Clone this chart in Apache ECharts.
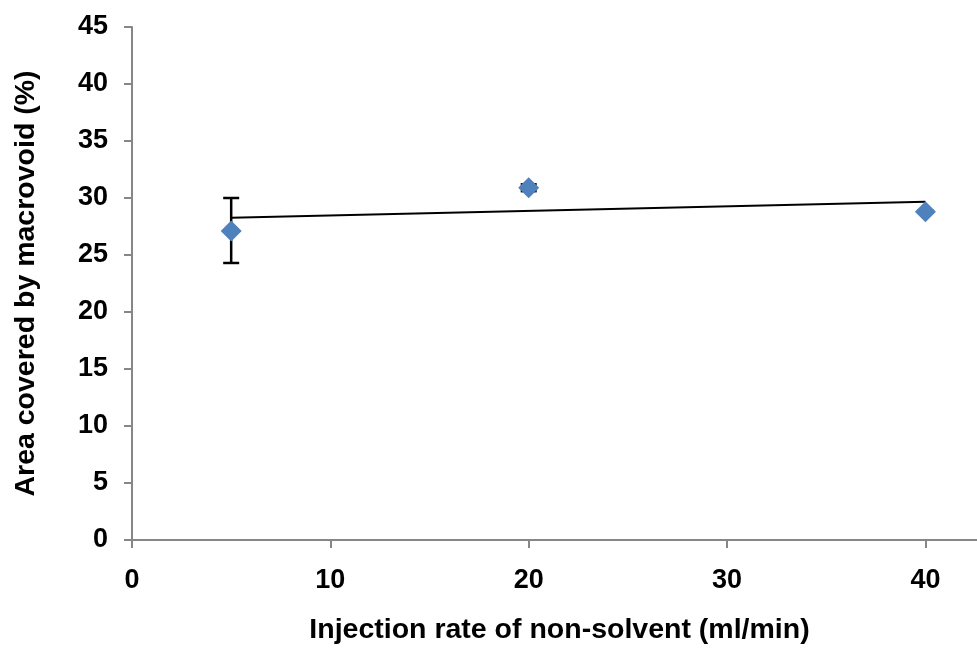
<!DOCTYPE html>
<html>
<head>
<meta charset="utf-8">
<script src="https://cdn.jsdelivr.net/npm/echarts@6/dist/echarts.min.js"></script>
<style>
  html, body { margin: 0; padding: 0; background: #fff; }
  #chart { width: 977px; height: 655px; }
</style>
</head>
<body>
<div id="chart"></div>
<script>
// injection rate (ml/min) and area covered (%)
var rates = [5, 20, 40];
var areas = [27.1, 30.9, 28.8];
// error bar extents [low, high]
var errLow = [24.3, 30.6, 28.7];
var errHigh = [30.0, 31.2, 28.9];
// linear trend line end points
var trendX = [5, 40];
var trendY = [28.26, 29.67];
// x axis ticks
var xTicks = [0, 10, 20, 30, 40];

var axisGrey = '#868686';
var font = 'Liberation Sans, Arial, sans-serif';

var chart = echarts.init(document.getElementById('chart'));

var pts = rates.map(function (r, i) { return [r, areas[i]]; });
var errs = rates.map(function (r, i) { return [r, errLow[i], errHigh[i]]; });
var trend = trendX.map(function (x, i) { return [x, trendY[i]]; });

var option = {
    backgroundColor: '#fff',
    animation: false,
    grid: {
        left: 132,
        right: 0,
        top: 27,
        bottom: 115
    },
    xAxis: {
        type: 'value',
        min: 0,
        max: 42.6,
        interval: 10,
        name: 'Injection rate of non-solvent (ml/min)',
        nameLocation: 'middle',
        nameGap: 76,
        nameTextStyle: { fontFamily: font, fontWeight: 'bold', fontSize: 28.5, color: '#000', padding: [0, 0, 0, 10] },
        axisLine: { show: true, onZero: false, lineStyle: { color: axisGrey, width: 2 } },
        axisTick: { show: true, length: 8, customValues: xTicks, lineStyle: { color: axisGrey, width: 2 } },
        splitLine: { show: false },
        axisLabel: {
            margin: 27,
            customValues: xTicks,
            fontFamily: font, fontWeight: 'bold', fontSize: 27, color: '#000'
        }
    },
    yAxis: {
        type: 'value',
        min: 0,
        max: 45,
        interval: 5,
        name: 'Area covered by macrovoid (%)',
        nameLocation: 'middle',
        nameGap: 91,
        nameTextStyle: { fontFamily: font, fontWeight: 'bold', fontSize: 28.5, color: '#000' },
        axisLine: { show: true, lineStyle: { color: axisGrey, width: 2 } },
        axisTick: { show: true, length: 8, lineStyle: { color: axisGrey, width: 2 } },
        splitLine: { show: false },
        axisLabel: {
            margin: 24,
            fontFamily: font, fontWeight: 'bold', fontSize: 27, color: '#000'
        }
    },
    series: [
        {
            type: 'line',
            data: trend,
            symbol: 'none',
            lineStyle: { color: '#000', width: 2 },
            z: 2
        },
        {
            type: 'custom',
            data: errs,
            z: 3,
            renderItem: function (params, api) {
                var x = api.value(0);
                var lo = api.coord([x, api.value(1)]);
                var hi = api.coord([x, api.value(2)]);
                var cap = 8;
                var st = { stroke: '#000', lineWidth: 2.5 };
                return {
                    type: 'group',
                    children: [
                        { type: 'line', shape: { x1: lo[0], y1: lo[1], x2: hi[0], y2: hi[1] }, style: st },
                        { type: 'line', shape: { x1: lo[0] - cap, y1: lo[1], x2: lo[0] + cap, y2: lo[1] }, style: st },
                        { type: 'line', shape: { x1: hi[0] - cap, y1: hi[1], x2: hi[0] + cap, y2: hi[1] }, style: st }
                    ]
                };
            }
        },
        {
            type: 'scatter',
            data: pts,
            symbol: 'path://M0,-1L1,0L0,1L-1,0Z',
            symbolSize: 21,
            itemStyle: { color: '#4F81BD', opacity: 1 },
            z: 4
        }
    ]
};
chart.setOption(option);
</script>
</body>
</html>
